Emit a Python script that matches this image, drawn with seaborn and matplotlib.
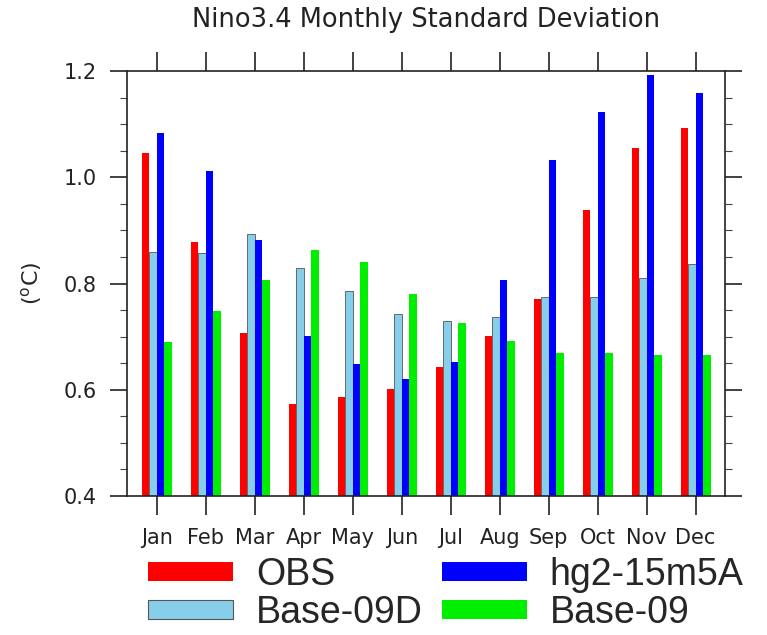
import matplotlib
matplotlib.use("Agg")
import matplotlib.pyplot as plt
from matplotlib.ticker import MultipleLocator
import seaborn as sns
import pandas as pd

months = ["Jan", "Feb", "Mar", "Apr", "May", "Jun", "Jul", "Aug", "Sep", "Oct", "Nov", "Dec"]
series = ["OBS", "Base-09D", "hg2-15m5A", "Base-09"]
obs = [1.045, 0.879, 0.706, 0.573, 0.586, 0.601, 0.642, 0.701, 0.770, 0.939, 1.055, 1.092]
base09d = [0.860, 0.858, 0.893, 0.829, 0.786, 0.743, 0.730, 0.737, 0.775, 0.775, 0.810, 0.837]
hg2 = [1.083, 1.011, 0.882, 0.701, 0.649, 0.620, 0.653, 0.807, 1.033, 1.122, 1.192, 1.158]
base09 = [0.690, 0.749, 0.807, 0.863, 0.841, 0.780, 0.726, 0.692, 0.670, 0.670, 0.666, 0.666]
colors = ["#ff0000", "#87ceeb", "#0000ff", "#00ee00"]

values = [obs, base09d, hg2, base09]
df = pd.DataFrame({
    "month": [m for _ in series for m in months],
    "series": [s for s in series for _ in months],
    "value": [v for vals in values for v in vals],
})

sns.set_style("white")
plt.rcParams["font.family"] = ["DejaVu Sans"]

fig = plt.figure(figsize=(7.67, 6.35), dpi=100)
ax = fig.add_axes([127/767, 1 - 496/635, (725-127)/767, (496-71)/635])

sns.barplot(data=df, x="month", y="value", hue="series", order=months,
            hue_order=series, palette=colors, width=0.61, saturation=1,
            linewidth=0, ax=ax, legend=True)

for p in ax.containers[1]:
    p.set_edgecolor("#555555")
    p.set_linewidth(0.6)

ax.set_xlim(-0.61, 11.6)
ax.set_ylim(0.4, 1.2)
ax.yaxis.set_major_locator(MultipleLocator(0.2))
ax.yaxis.set_minor_locator(MultipleLocator(0.05))
ax.set_yticks([0.4, 0.6, 0.8, 1.0, 1.2])
ax.set_yticklabels(["0.4", "0.6", "0.8", "1.0", "1.2"])
ax.set_xlabel("")
ax.set_ylabel("($^\\mathregular{o}$C)", fontsize=16, labelpad=14)

for s in ax.spines.values():
    s.set_color("#222222")
    s.set_linewidth(1.2)

ax.tick_params(axis="y", which="major", direction="out", length=12, width=1.2,
               labelsize=15, pad=10, left=True, right=True, colors="#222222")
ax.tick_params(axis="y", which="minor", direction="out", length=5, width=0.8,
               left=True, right=True, color="#444444")
ax.tick_params(axis="x", which="major", direction="out", length=14, width=1.2,
               labelsize=15, pad=9, bottom=True, top=True, colors="#222222")

fig.text(426/767, 1 - 20/635, "Nino3.4 Monthly Standard Deviation",
         ha="center", va="center", fontsize=18.5, color="#222222")

handles, labels = ax.get_legend_handles_labels()
ax.get_legend().remove()
handles[1].set_edgecolor("#555555")
handles[1].set_linewidth(0.8)
fig.legend(handles, labels, ncol=2, loc="upper left",
           bbox_to_anchor=(148/767, 1 - 557/635), frameon=False,
           prop={"family": "Liberation Sans", "size": 27},
           handlelength=2.27, handleheight=0.37,
           handletextpad=0.61, columnspacing=0.5, labelspacing=0.05,
           borderpad=0, borderaxespad=0)

fig.savefig("out.png", dpi=100)
